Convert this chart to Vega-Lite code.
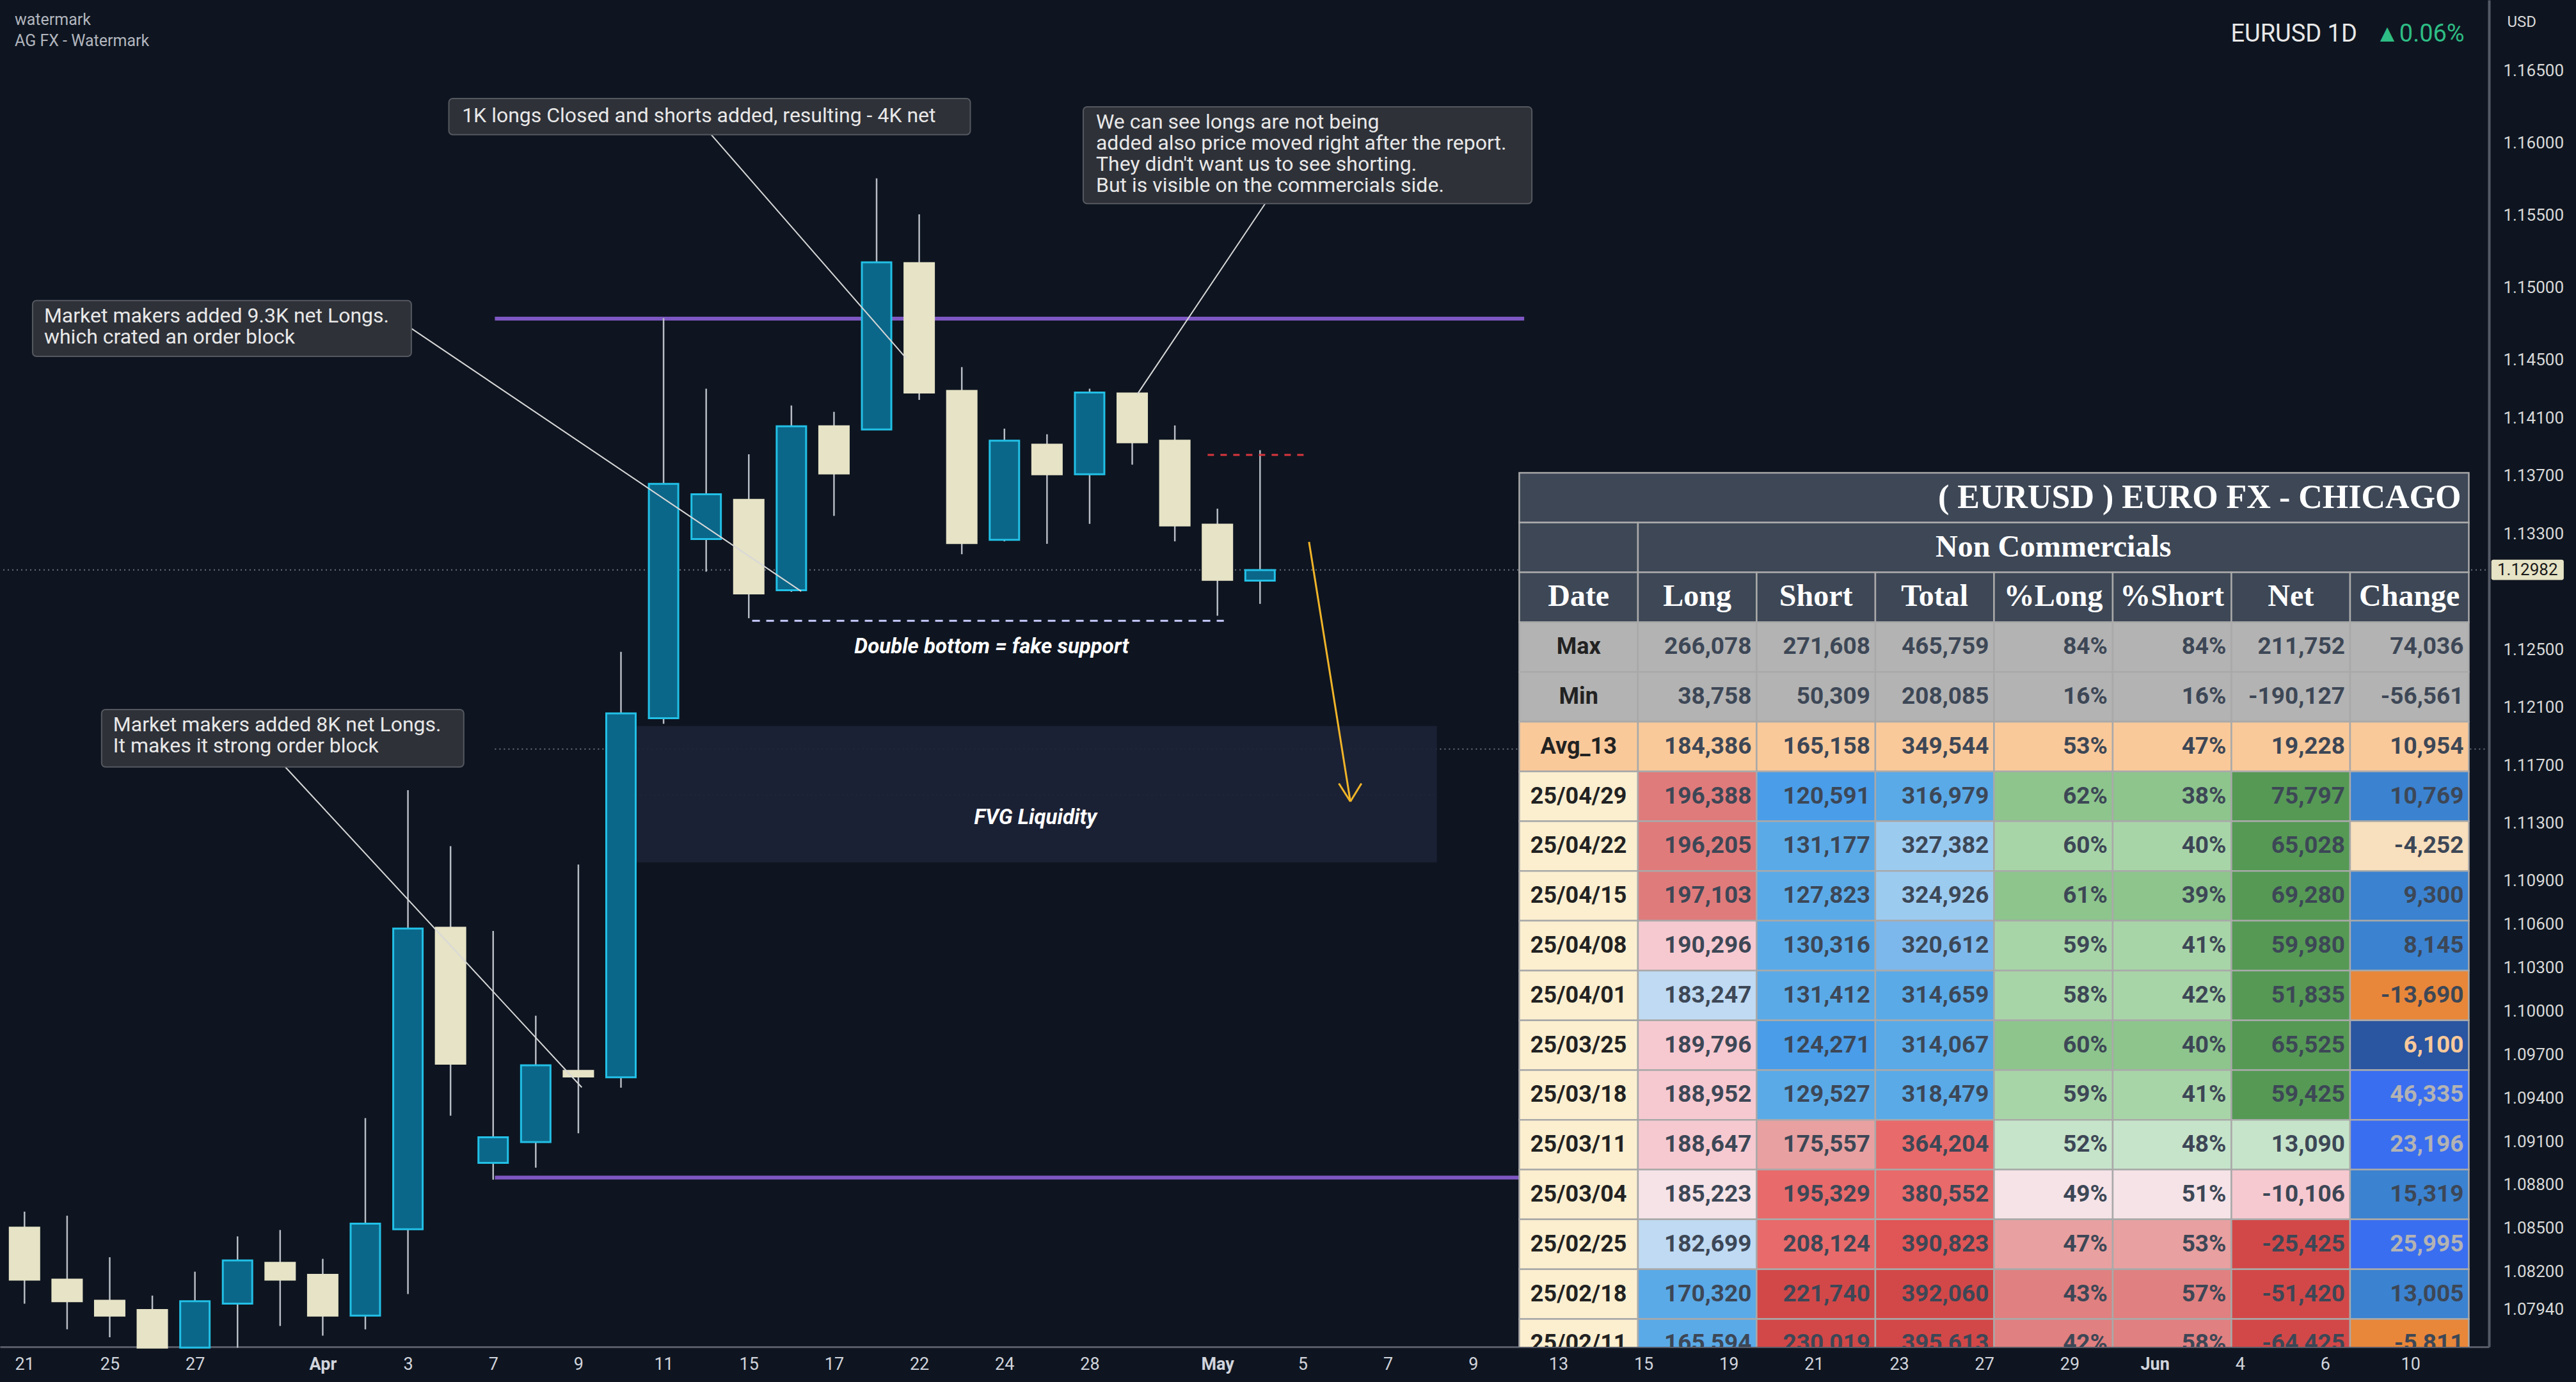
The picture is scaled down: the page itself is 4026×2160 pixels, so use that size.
{
  "$schema": "https://vega.github.io/schema/vega-lite/v6.json",
  "width": 3890,
  "height": 2105,
  "autosize": "none",
  "padding": {"left": 0, "top": 0, "right": 136, "bottom": 55},
  "background": "#0e1520",
  "config": {"view": {"stroke": null}, "font": "Roboto"},
  "datasets": {
    "candles": [
      {"i":0,"o":1.08504,"c":1.08145,"h":1.08615,"l":1.07979},
      {"i":1,"o":1.08145,"c":1.07996,"h":1.08587,"l":1.07802},
      {"i":2,"o":1.07999,"c":1.07896,"h":1.08300,"l":1.07747},
      {"i":3,"o":1.07935,"c":1.07675,"h":1.08035,"l":1.07675},
      {"i":4,"o":1.07675,"c":1.07996,"h":1.08200,"l":1.07675},
      {"i":5,"o":1.07979,"c":1.08278,"h":1.08444,"l":1.07675},
      {"i":6,"o":1.08261,"c":1.08145,"h":1.08488,"l":1.07825},
      {"i":7,"o":1.08178,"c":1.07896,"h":1.08289,"l":1.07758},
      {"i":8,"o":1.07896,"c":1.08532,"h":1.09262,"l":1.07802},
      {"i":9,"o":1.08493,"c":1.10572,"h":1.11528,"l":1.08046},
      {"i":10,"o":1.10577,"c":1.09637,"h":1.11141,"l":1.09278},
      {"i":11,"o":1.08952,"c":1.09129,"h":1.10555,"l":1.08836},
      {"i":12,"o":1.09096,"c":1.09626,"h":1.09969,"l":1.08919},
      {"i":13,"o":1.09588,"c":1.09549,"h":1.11014,"l":1.09157},
      {"i":14,"o":1.09544,"c":1.12058,"h":1.12484,"l":1.09472},
      {"i":15,"o":1.12025,"c":1.13644,"h":1.14789,"l":1.11986},
      {"i":16,"o":1.13263,"c":1.13573,"h":1.14302,"l":1.13037},
      {"i":17,"o":1.13534,"c":1.12887,"h":1.13849,"l":1.12716},
      {"i":18,"o":1.12909,"c":1.14042,"h":1.14186,"l":1.12898},
      {"i":19,"o":1.14042,"c":1.13716,"h":1.14142,"l":1.13423},
      {"i":20,"o":1.14020,"c":1.15175,"h":1.15756,"l":1.14020},
      {"i":21,"o":1.15170,"c":1.14275,"h":1.15507,"l":1.14225},
      {"i":22,"o":1.14286,"c":1.13235,"h":1.14451,"l":1.13158},
      {"i":23,"o":1.13258,"c":1.13943,"h":1.14026,"l":1.13247},
      {"i":24,"o":1.13915,"c":1.13711,"h":1.13987,"l":1.13230},
      {"i":25,"o":1.13711,"c":1.14275,"h":1.14302,"l":1.13368},
      {"i":26,"o":1.14269,"c":1.13932,"h":1.14269,"l":1.13777},
      {"i":27,"o":1.13943,"c":1.13357,"h":1.14048,"l":1.13247},
      {"i":28,"o":1.13363,"c":1.12981,"h":1.13473,"l":1.12733},
      {"i":29,"o":1.12976,"c":1.13048,"h":1.13877,"l":1.12815}
    ],
    "segs": [
      {"k":"dot","x":-0.5,"y":1.1305,"x2":57.77,"y2":1.1305},
      {"k":"dot","x":11.04,"y":1.11812,"x2":57.77,"y2":1.11812},
      {"k":"dot","x":14.04,"y":1.11494,"x2":33.15,"y2":1.11494},
      {"k":"purple","x":11.04,"y":1.14786,"x2":35.2,"y2":1.14786},
      {"k":"purple","x":11.04,"y":1.0885,"x2":35.1,"y2":1.0885},
      {"k":"dashw","x":17.08,"y":1.12698,"x2":28.15,"y2":1.12698},
      {"k":"dashr","x":27.77,"y":1.13844,"x2":30.15,"y2":1.13844},
      {"k":"lead","x":16.12,"y":1.16057,"x2":20.69,"y2":1.14514},
      {"k":"lead","x":29.12,"y":1.15581,"x2":26.12,"y2":1.14264},
      {"k":"lead","x":9.08,"y":1.14718,"x2":18.23,"y2":1.12902},
      {"k":"lead","x":6.12,"y":1.11688,"x2":13.08,"y2":1.09474},
      {"k":"arrow","x":30.15,"y":1.13243,"x2":31.12,"y2":1.11449},
      {"k":"arrow","x":30.85,"y":1.11574,"x2":31.12,"y2":1.11449},
      {"k":"arrow","x":31.38,"y":1.11574,"x2":31.12,"y2":1.11449}
    ],
    "boxes": [
      {"x":9.96,"x2":22.2,"y":1.16307,"y2":1.16057,"tx":10.27,"ty":1.16255,"t":"1K longs Closed and shorts added, resulting  - 4K net"},
      {"x":24.85,"x2":35.38,"y":1.1625,"y2":1.15581,"tx":25.15,"ty":1.16208,"t":"We can see longs are not being\nadded also price moved right after the report.\nThey didn't want us to see shorting.\n But is visible on the commercials side."},
      {"x":0.19,"x2":9.08,"y":1.14911,"y2":1.14525,"tx":0.46,"ty":1.14869,"t":"Market makers added 9.3K net Longs.\nwhich crated an order block"},
      {"x":1.81,"x2":10.31,"y":1.12085,"y2":1.11688,"tx":2.08,"ty":1.12043,"t":"Market makers added 8K net Longs.\nIt makes it strong order block"}
    ],
    "cells": [
      {"r":0,"c":0,"w":8,"t":"( EURUSD ) EURO FX - CHICAGO","k":"hdr","ink":"w","f":"title"},
      {"r":1,"c":0,"t":"","k":"hdr","ink":"w","f":"head"},
      {"r":1,"c":1,"w":7,"t":"Non Commercials","k":"hdr","ink":"w","f":"head"},
      {"r":2,"c":0,"t":"Date","k":"hdr","ink":"w","f":"head"},
      {"r":2,"c":1,"t":"Long","k":"hdr","ink":"w","f":"head"},
      {"r":2,"c":2,"t":"Short","k":"hdr","ink":"w","f":"head"},
      {"r":2,"c":3,"t":"Total","k":"hdr","ink":"w","f":"head"},
      {"r":2,"c":4,"t":"%Long","k":"hdr","ink":"w","f":"head"},
      {"r":2,"c":5,"t":"%Short","k":"hdr","ink":"w","f":"head"},
      {"r":2,"c":6,"t":"Net","k":"hdr","ink":"w","f":"head"},
      {"r":2,"c":7,"t":"Change","k":"hdr","ink":"w","f":"head"},
      {"r":3,"c":0,"t":"Max","k":"stat","ink":"d","f":"date"},
      {"r":3,"c":1,"t":"266,078","k":"stat","ink":"d","f":"num"},
      {"r":3,"c":2,"t":"271,608","k":"stat","ink":"d","f":"num"},
      {"r":3,"c":3,"t":"465,759","k":"stat","ink":"d","f":"num"},
      {"r":3,"c":4,"t":"84%","k":"stat","ink":"d","f":"num"},
      {"r":3,"c":5,"t":"84%","k":"stat","ink":"d","f":"num"},
      {"r":3,"c":6,"t":"211,752","k":"stat","ink":"d","f":"num"},
      {"r":3,"c":7,"t":"74,036","k":"stat","ink":"d","f":"num"},
      {"r":4,"c":0,"t":"Min","k":"stat","ink":"d","f":"date"},
      {"r":4,"c":1,"t":"38,758","k":"stat","ink":"d","f":"num"},
      {"r":4,"c":2,"t":"50,309","k":"stat","ink":"d","f":"num"},
      {"r":4,"c":3,"t":"208,085","k":"stat","ink":"d","f":"num"},
      {"r":4,"c":4,"t":"16%","k":"stat","ink":"d","f":"num"},
      {"r":4,"c":5,"t":"16%","k":"stat","ink":"d","f":"num"},
      {"r":4,"c":6,"t":"-190,127","k":"stat","ink":"d","f":"num"},
      {"r":4,"c":7,"t":"-56,561","k":"stat","ink":"d","f":"num"},
      {"r":5,"c":0,"t":"Avg_13","k":"avg","ink":"d","f":"date"},
      {"r":5,"c":1,"t":"184,386","k":"avg","ink":"d","f":"num"},
      {"r":5,"c":2,"t":"165,158","k":"avg","ink":"d","f":"num"},
      {"r":5,"c":3,"t":"349,544","k":"avg","ink":"d","f":"num"},
      {"r":5,"c":4,"t":"53%","k":"avg","ink":"d","f":"num"},
      {"r":5,"c":5,"t":"47%","k":"avg","ink":"d","f":"num"},
      {"r":5,"c":6,"t":"19,228","k":"avg","ink":"d","f":"num"},
      {"r":5,"c":7,"t":"10,954","k":"avg","ink":"d","f":"num"},
      {"r":6,"c":0,"t":"25/04/29","k":"date","ink":"d","f":"date"},
      {"r":6,"c":1,"t":"196,388","k":"r1","ink":"d","f":"num"},
      {"r":6,"c":2,"t":"120,591","k":"b1","ink":"d","f":"num"},
      {"r":6,"c":3,"t":"316,979","k":"b2","ink":"d","f":"num"},
      {"r":6,"c":4,"t":"62%","k":"g1","ink":"d","f":"num"},
      {"r":6,"c":5,"t":"38%","k":"g1","ink":"d","f":"num"},
      {"r":6,"c":6,"t":"75,797","k":"gd","ink":"d","f":"num"},
      {"r":6,"c":7,"t":"10,769","k":"cb","ink":"d","f":"num"},
      {"r":7,"c":0,"t":"25/04/22","k":"date","ink":"d","f":"date"},
      {"r":7,"c":1,"t":"196,205","k":"r1","ink":"d","f":"num"},
      {"r":7,"c":2,"t":"131,177","k":"b2","ink":"d","f":"num"},
      {"r":7,"c":3,"t":"327,382","k":"b3","ink":"d","f":"num"},
      {"r":7,"c":4,"t":"60%","k":"g2","ink":"d","f":"num"},
      {"r":7,"c":5,"t":"40%","k":"g2","ink":"d","f":"num"},
      {"r":7,"c":6,"t":"65,028","k":"gd","ink":"d","f":"num"},
      {"r":7,"c":7,"t":"-4,252","k":"beige","ink":"d","f":"num"},
      {"r":8,"c":0,"t":"25/04/15","k":"date","ink":"d","f":"date"},
      {"r":8,"c":1,"t":"197,103","k":"r1","ink":"d","f":"num"},
      {"r":8,"c":2,"t":"127,823","k":"b2","ink":"d","f":"num"},
      {"r":8,"c":3,"t":"324,926","k":"b3","ink":"d","f":"num"},
      {"r":8,"c":4,"t":"61%","k":"g1","ink":"d","f":"num"},
      {"r":8,"c":5,"t":"39%","k":"g1","ink":"d","f":"num"},
      {"r":8,"c":6,"t":"69,280","k":"gd","ink":"d","f":"num"},
      {"r":8,"c":7,"t":"9,300","k":"cb","ink":"d","f":"num"},
      {"r":9,"c":0,"t":"25/04/08","k":"date","ink":"d","f":"date"},
      {"r":9,"c":1,"t":"190,296","k":"pink","ink":"d","f":"num"},
      {"r":9,"c":2,"t":"130,316","k":"b2","ink":"d","f":"num"},
      {"r":9,"c":3,"t":"320,612","k":"b4","ink":"d","f":"num"},
      {"r":9,"c":4,"t":"59%","k":"g2","ink":"d","f":"num"},
      {"r":9,"c":5,"t":"41%","k":"g2","ink":"d","f":"num"},
      {"r":9,"c":6,"t":"59,980","k":"gd","ink":"d","f":"num"},
      {"r":9,"c":7,"t":"8,145","k":"cb","ink":"d","f":"num"},
      {"r":10,"c":0,"t":"25/04/01","k":"date","ink":"d","f":"date"},
      {"r":10,"c":1,"t":"183,247","k":"lb","ink":"d","f":"num"},
      {"r":10,"c":2,"t":"131,412","k":"b2","ink":"d","f":"num"},
      {"r":10,"c":3,"t":"314,659","k":"b2","ink":"d","f":"num"},
      {"r":10,"c":4,"t":"58%","k":"g2","ink":"d","f":"num"},
      {"r":10,"c":5,"t":"42%","k":"g2","ink":"d","f":"num"},
      {"r":10,"c":6,"t":"51,835","k":"gd","ink":"d","f":"num"},
      {"r":10,"c":7,"t":"-13,690","k":"orange","ink":"d","f":"num"},
      {"r":11,"c":0,"t":"25/03/25","k":"date","ink":"d","f":"date"},
      {"r":11,"c":1,"t":"189,796","k":"pink","ink":"d","f":"num"},
      {"r":11,"c":2,"t":"124,271","k":"b1","ink":"d","f":"num"},
      {"r":11,"c":3,"t":"314,067","k":"b2","ink":"d","f":"num"},
      {"r":11,"c":4,"t":"60%","k":"g1","ink":"d","f":"num"},
      {"r":11,"c":5,"t":"40%","k":"g1","ink":"d","f":"num"},
      {"r":11,"c":6,"t":"65,525","k":"gd","ink":"d","f":"num"},
      {"r":11,"c":7,"t":"6,100","k":"cbd","ink":"y","f":"num"},
      {"r":12,"c":0,"t":"25/03/18","k":"date","ink":"d","f":"date"},
      {"r":12,"c":1,"t":"188,952","k":"pink","ink":"d","f":"num"},
      {"r":12,"c":2,"t":"129,527","k":"b2","ink":"d","f":"num"},
      {"r":12,"c":3,"t":"318,479","k":"b2","ink":"d","f":"num"},
      {"r":12,"c":4,"t":"59%","k":"g2","ink":"d","f":"num"},
      {"r":12,"c":5,"t":"41%","k":"g2","ink":"d","f":"num"},
      {"r":12,"c":6,"t":"59,425","k":"gd","ink":"d","f":"num"},
      {"r":12,"c":7,"t":"46,335","k":"cbv","ink":"w","f":"num"},
      {"r":13,"c":0,"t":"25/03/11","k":"date","ink":"d","f":"date"},
      {"r":13,"c":1,"t":"188,647","k":"pink","ink":"d","f":"num"},
      {"r":13,"c":2,"t":"175,557","k":"rp","ink":"d","f":"num"},
      {"r":13,"c":3,"t":"364,204","k":"rd1","ink":"d","f":"num"},
      {"r":13,"c":4,"t":"52%","k":"g3","ink":"d","f":"num"},
      {"r":13,"c":5,"t":"48%","k":"g3","ink":"d","f":"num"},
      {"r":13,"c":6,"t":"13,090","k":"g3","ink":"d","f":"num"},
      {"r":13,"c":7,"t":"23,196","k":"cbv","ink":"w","f":"num"},
      {"r":14,"c":0,"t":"25/03/04","k":"date","ink":"d","f":"date"},
      {"r":14,"c":1,"t":"185,223","k":"pale","ink":"d","f":"num"},
      {"r":14,"c":2,"t":"195,329","k":"rd1","ink":"d","f":"num"},
      {"r":14,"c":3,"t":"380,552","k":"rd1","ink":"d","f":"num"},
      {"r":14,"c":4,"t":"49%","k":"pale","ink":"d","f":"num"},
      {"r":14,"c":5,"t":"51%","k":"pale","ink":"d","f":"num"},
      {"r":14,"c":6,"t":"-10,106","k":"pink","ink":"d","f":"num"},
      {"r":14,"c":7,"t":"15,319","k":"cb","ink":"d","f":"num"},
      {"r":15,"c":0,"t":"25/02/25","k":"date","ink":"d","f":"date"},
      {"r":15,"c":1,"t":"182,699","k":"lb","ink":"d","f":"num"},
      {"r":15,"c":2,"t":"208,124","k":"rd1","ink":"d","f":"num"},
      {"r":15,"c":3,"t":"390,823","k":"rd2","ink":"d","f":"num"},
      {"r":15,"c":4,"t":"47%","k":"rp","ink":"d","f":"num"},
      {"r":15,"c":5,"t":"53%","k":"rp","ink":"d","f":"num"},
      {"r":15,"c":6,"t":"-25,425","k":"rd3","ink":"d","f":"num"},
      {"r":15,"c":7,"t":"25,995","k":"cbv","ink":"w","f":"num"},
      {"r":16,"c":0,"t":"25/02/18","k":"date","ink":"d","f":"date"},
      {"r":16,"c":1,"t":"170,320","k":"b2","ink":"d","f":"num"},
      {"r":16,"c":2,"t":"221,740","k":"rd3","ink":"d","f":"num"},
      {"r":16,"c":3,"t":"392,060","k":"rd3","ink":"d","f":"num"},
      {"r":16,"c":4,"t":"43%","k":"rp2","ink":"d","f":"num"},
      {"r":16,"c":5,"t":"57%","k":"rp2","ink":"d","f":"num"},
      {"r":16,"c":6,"t":"-51,420","k":"rd3","ink":"d","f":"num"},
      {"r":16,"c":7,"t":"13,005","k":"cb","ink":"d","f":"num"},
      {"r":17,"c":0,"t":"25/02/11","k":"date","ink":"d","f":"date"},
      {"r":17,"c":1,"t":"165,594","k":"b2","ink":"d","f":"num"},
      {"r":17,"c":2,"t":"230,019","k":"rd3","ink":"d","f":"num"},
      {"r":17,"c":3,"t":"395,613","k":"rd3","ink":"d","f":"num"},
      {"r":17,"c":4,"t":"42%","k":"rp2","ink":"d","f":"num"},
      {"r":17,"c":5,"t":"58%","k":"rp2","ink":"d","f":"num"},
      {"r":17,"c":6,"t":"-64,425","k":"rd3","ink":"d","f":"num"},
      {"r":17,"c":7,"t":"-5,811","k":"orange","ink":"d","f":"num"}
    ]
  },
  "resolve": {"scale": {"x": "independent", "y": "independent", "color": "independent"}},
  "layer": [
    {
      "encoding": {
        "x": {"type": "quantitative", "scale": {"domain": [-0.5, 57.77], "nice": false, "zero": false}},
        "y": {"type": "quantitative", "scale": {"domain": [1.07681, 1.16988], "nice": false, "zero": false}}
      },
      "layer": [
        {
          "data": {"name": "segs"},
          "transform": [{"filter": "datum.k == 'dot'"}],
          "mark": {"type": "rule", "color": "#6b7280", "strokeWidth": 2, "strokeDash": [2, 5]},
          "encoding": {"x": {"field": "x", "type": "quantitative"}, "y": {"field": "y", "type": "quantitative"}, "x2": {"field": "x2"}, "y2": {"field": "y2"}}
        },
        {
          "data": {"values": [{"x": 14.04, "x2": 33.15, "y": 1.11971, "y2": 1.11029}]},
          "mark": {"type": "rect", "color": "#1c2236", "opacity": 0.95},
          "encoding": {
            "x": {"field": "x", "type": "quantitative", "axis": {"values": [0,2,4,7,9,11,13,15,17,19,21,23,25,28,30,32,34,36,38,40,42,44,46,48,50,52,54,56], "labelExpr": "['21','','25','','27','','','Apr','','3','','7','','9','','11','','15','','17','','22','','24','','28','','','May','','5','','7','','9','','13','','15','','19','','21','','23','','27','','29','','Jun','','4','','6','','10'][datum.value]", "labelColor": "#d1d4dc", "labelFontSize": 27, "labelPadding": 14, "ticks": false, "grid": false, "domain": true, "domainColor": "#555a66", "domainWidth": 3, "title": null, "labelFontWeight": {"condition": {"test": "datum.value == 7 || datum.value == 28 || datum.value == 50", "value": "bold"}, "value": "normal"}}},
            "x2": {"field": "x2"},
            "y": {"field": "y", "type": "quantitative", "axis": {"orient": "right", "values": [1.165,1.16,1.155,1.15,1.145,1.141,1.137,1.133,1.125,1.121,1.117,1.113,1.109,1.106,1.103,1.1,1.097,1.094,1.091,1.088,1.085,1.082,1.0794], "format": ".5f", "labelColor": "#d9d9d9", "labelFontSize": 26, "labelPadding": 22, "ticks": false, "grid": false, "domainColor": "#555a66", "domainWidth": 4, "title": "USD", "titleAngle": 0, "titleAlign": "left", "titleBaseline": "middle", "titleX": 28, "titleY": 34, "titleColor": "#d9d9d9", "titleFontSize": 24, "titleFontWeight": "normal"}},
            "y2": {"field": "y2"}
          }
        },
        {
          "data": {"name": "segs"},
          "transform": [{"filter": "datum.k == 'purple'"}],
          "mark": {"type": "rule", "color": "#7e57c2", "strokeWidth": 6},
          "encoding": {"x": {"field": "x", "type": "quantitative"}, "y": {"field": "y", "type": "quantitative"}, "x2": {"field": "x2"}, "y2": {"field": "y2"}}
        },
        {
          "data": {"name": "candles"},
          "mark": {"type": "rule", "color": "#b8bcc4", "strokeWidth": 2.5},
          "encoding": {"x": {"field": "i", "type": "quantitative"}, "y": {"field": "l", "type": "quantitative"}, "y2": {"field": "h"}}
        },
        {
          "data": {"name": "candles"},
          "transform": [{"calculate": "datum.c >= datum.o ? 'up' : 'down'", "as": "dir"}],
          "mark": {"type": "bar", "size": 46, "strokeWidth": 3},
          "encoding": {
            "x": {"field": "i", "type": "quantitative"},
            "y": {"field": "o", "type": "quantitative"},
            "y2": {"field": "c"},
            "color": {"field": "dir", "type": "nominal", "scale": {"domain": ["up", "down"], "range": ["#0b6789", "#e6e3c6"]}, "legend": null},
            "stroke": {"field": "dir", "type": "nominal", "scale": {"domain": ["up", "down"], "range": ["#22c0e6", "#e6e3c6"]}, "legend": null}
          }
        },
        {
          "data": {"name": "segs"},
          "transform": [{"filter": "datum.k == 'dashw'"}],
          "mark": {"type": "rule", "color": "#c9ccff", "strokeWidth": 3, "strokeDash": [12, 10]},
          "encoding": {"x": {"field": "x", "type": "quantitative"}, "y": {"field": "y", "type": "quantitative"}, "x2": {"field": "x2"}, "y2": {"field": "y2"}}
        },
        {
          "data": {"name": "segs"},
          "transform": [{"filter": "datum.k == 'dashr'"}],
          "mark": {"type": "rule", "color": "#d9363e", "strokeWidth": 3, "strokeDash": [10, 10]},
          "encoding": {"x": {"field": "x", "type": "quantitative"}, "y": {"field": "y", "type": "quantitative"}, "x2": {"field": "x2"}, "y2": {"field": "y2"}}
        },
        {
          "data": {"name": "segs"},
          "transform": [{"filter": "datum.k == 'lead'"}],
          "mark": {"type": "rule", "color": "#d8d8d8", "strokeWidth": 2},
          "encoding": {"x": {"field": "x", "type": "quantitative"}, "y": {"field": "y", "type": "quantitative"}, "x2": {"field": "x2"}, "y2": {"field": "y2"}}
        },
        {
          "data": {"name": "segs"},
          "transform": [{"filter": "datum.k == 'arrow'"}],
          "mark": {"type": "rule", "color": "#f0b429", "strokeWidth": 3},
          "encoding": {"x": {"field": "x", "type": "quantitative"}, "y": {"field": "y", "type": "quantitative"}, "x2": {"field": "x2"}, "y2": {"field": "y2"}}
        },
        {
          "data": {"name": "boxes"},
          "mark": {"type": "rect", "color": "#2e3138", "stroke": "#55585f", "strokeWidth": 2, "cornerRadius": 6},
          "encoding": {"x": {"field": "x", "type": "quantitative"}, "x2": {"field": "x2"}, "y": {"field": "y", "type": "quantitative"}, "y2": {"field": "y2"}}
        },
        {
          "data": {"name": "boxes"},
          "mark": {"type": "text", "align": "left", "baseline": "top", "color": "#e8e8e8", "fontSize": 32, "lineBreak": "\n", "lineHeight": 33},
          "encoding": {"x": {"field": "tx", "type": "quantitative"}, "y": {"field": "ty", "type": "quantitative"}, "text": {"field": "t"}}
        },
        {
          "data": {"values": [
            {"x": 22.7, "y": 1.12516, "t": "Double bottom = fake support"},
            {"x": 23.73, "y": 1.11336, "t": "FVG Liquidity"}
          ]},
          "mark": {"type": "text", "align": "center", "baseline": "middle", "color": "#ffffff", "fontSize": 33, "fontStyle": "italic", "fontWeight": "bold"},
          "encoding": {"x": {"field": "x", "type": "quantitative"}, "y": {"field": "y", "type": "quantitative"}, "text": {"field": "t"}}
        },
        {
          "data": {"values": [
            {"x": -0.23, "y": 1.16852, "t": "watermark"},
            {"x": -0.23, "y": 1.16704, "t": "AG FX - Watermark"}
          ]},
          "mark": {"type": "text", "align": "left", "baseline": "middle", "color": "#b2b5be", "fontSize": 25},
          "encoding": {"x": {"field": "x", "type": "quantitative"}, "y": {"field": "y", "type": "quantitative"}, "text": {"field": "t"}}
        },
        {
          "data": {"values": [{"x": 54.75, "y": 1.1675, "t": "EURUSD 1D"}]},
          "mark": {"type": "text", "align": "right", "baseline": "middle", "fontSize": 38, "color": "#e8e8e8"},
          "encoding": {"x": {"field": "x", "type": "quantitative"}, "y": {"field": "y", "type": "quantitative"}, "text": {"field": "t"}}
        },
        {
          "data": {"values": [{"x": 57.27, "y": 1.1675, "t": "▲0.06%"}]},
          "mark": {"type": "text", "align": "right", "baseline": "middle", "fontSize": 38, "color": "#2ebd85"},
          "encoding": {"x": {"field": "x", "type": "quantitative"}, "y": {"field": "y", "type": "quantitative"}, "text": {"field": "t"}}
        },
        {
          "data": {"values": [{"x": 57.9, "x2": 59.6, "y": 1.1298, "y2": 1.1312, "t": "1.12982", "m": 58.75, "p": 1.1305}]},
          "layer": [
            {"mark": {"type": "rect", "color": "#e6e3c6", "cornerRadius": 3}, "encoding": {"x": {"field": "x", "type": "quantitative"}, "x2": {"field": "x2"}, "y": {"field": "y", "type": "quantitative"}, "y2": {"field": "y2"}}},
            {"mark": {"type": "text", "color": "#1a1a1a", "fontSize": 26, "baseline": "middle", "align": "center"}, "encoding": {"x": {"field": "m", "type": "quantitative"}, "y": {"field": "p", "type": "quantitative"}, "text": {"field": "t"}}}
          ]
        }
      ]
    },
    {
      "data": {"name": "cells"},
      "transform": [
        {"calculate": "datum.c + (datum.w ? datum.w : 1)", "as": "c1"},
        {"calculate": "datum.r + 1", "as": "r1"},
        {"calculate": "(datum.c + datum.c1) / 2", "as": "cm"},
        {"calculate": "datum.r + 0.5", "as": "rm"}
      ],
      "encoding": {
        "x": {"type": "quantitative", "scale": {"domain": [-12.8, 8.17], "nice": false, "zero": false}, "axis": null},
        "y": {"type": "quantitative", "scale": {"domain": [-9.5, 17.56], "reverse": true, "nice": false, "zero": false}, "axis": null}
      },
      "layer": [
        {
          "mark": {"type": "rect", "stroke": "#a9a9a9", "strokeWidth": 2.5, "clip": true},
          "encoding": {
            "x": {"field": "c", "type": "quantitative"}, "x2": {"field": "c1"},
            "y": {"field": "r", "type": "quantitative"}, "y2": {"field": "r1"},
            "color": {"field": "k", "type": "nominal", "legend": null, "scale": {
              "domain": ["hdr","stat","avg","date","r1","pink","pale","lb","b1","b2","b3","b4","g1","g2","g3","gd","rp","rp2","rd1","rd2","rd3","cb","cbd","cbv","orange","beige"],
              "range": ["#3d4756","#b3b3b3","#f9c99a","#fbefd0","#e07b7b","#f6c9d0","#f5e3e7","#bfdaf2","#4a9de8","#5aaae8","#9ccbf0","#7db8ec","#8dc58d","#a8d5a8","#c6e4ca","#559955","#e8a0a0","#e08080","#e86a6a","#e05555","#d24848","#3b82d0","#2a55a0","#3a6ef0","#e8873a","#f8dfbd"]}}
          }
        },
        {
          "transform": [{"filter": "datum.f == 'num'"}],
          "mark": {"type": "text", "align": "right", "baseline": "middle", "dx": -8, "fontSize": 37, "fontWeight": "bold", "font": "Roboto", "clip": true},
          "encoding": {
            "x": {"field": "c1", "type": "quantitative"}, "y": {"field": "rm", "type": "quantitative"}, "text": {"field": "t"},
            "color": {"field": "ink", "type": "nominal", "legend": null, "scale": {"domain": ["d", "w", "y"], "range": ["#333333", "#ffffff", "#ffe135"]}}
          }
        },
        {
          "transform": [{"filter": "datum.f == 'date'"}],
          "mark": {"type": "text", "align": "center", "baseline": "middle", "fontSize": 36, "fontWeight": "bold", "font": "Roboto", "color": "#222222", "clip": true},
          "encoding": {"x": {"field": "cm", "type": "quantitative"}, "y": {"field": "rm", "type": "quantitative"}, "text": {"field": "t"}}
        },
        {
          "transform": [{"filter": "datum.f == 'head'"}],
          "mark": {"type": "text", "align": "center", "baseline": "middle", "fontSize": 48, "fontWeight": "bold", "font": "Liberation Serif", "color": "#ffffff"},
          "encoding": {"x": {"field": "cm", "type": "quantitative"}, "y": {"field": "rm", "type": "quantitative"}, "text": {"field": "t"}}
        },
        {
          "transform": [{"filter": "datum.f == 'title'"}],
          "mark": {"type": "text", "align": "right", "baseline": "middle", "dx": -12, "fontSize": 52, "fontWeight": "bold", "font": "Liberation Serif", "color": "#ffffff"},
          "encoding": {"x": {"field": "c1", "type": "quantitative"}, "y": {"field": "rm", "type": "quantitative"}, "text": {"field": "t"}}
        }
      ]
    }
  ]
}
